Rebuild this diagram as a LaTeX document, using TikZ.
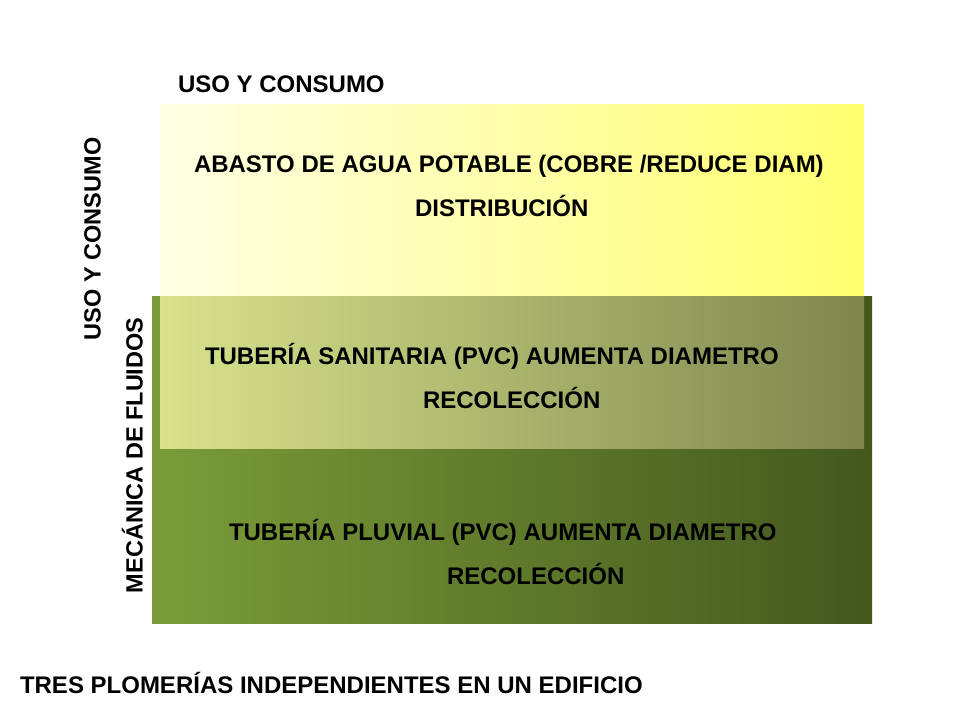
\documentclass[tikz,border=0pt]{standalone}
\usepackage{fontspec}
\setmainfont{Liberation Sans}
\definecolor{ylwL}{RGB}{255,255,228}
\definecolor{ylwR}{RGB}{255,255,112}
\definecolor{grnL}{RGB}{122,156,56}
\definecolor{grnR}{RGB}{68,88,30}
\definecolor{midL}{RGB}{216,226,140}
\definecolor{midR}{RGB}{126,134,78}
\begin{document}
\begin{tikzpicture}[x=1pt,y=-1pt,
  panel/.style={draw=none,inner sep=0pt,outer sep=0pt},
  lbl/.style={inner sep=0pt,outer sep=0pt,anchor=base west,font=\bfseries\fontsize{24}{28}\selectfont,text=black},
  vlbl/.style={lbl,rotate=90,font=\bfseries\fontsize{23.5}{28}\selectfont}]
\useasboundingbox (0,0) rectangle (960,720);
\node[panel,minimum width=704pt,minimum height=192pt,left color=ylwL,right color=ylwR] (yellow) at (512,200) {};
\node[panel,minimum width=720pt,minimum height=327pt,left color=grnL,right color=grnR] (green) at (512,459.5) {};
\node[panel,minimum width=704pt,minimum height=152pt,left color=midL,right color=midR] (mid) at (512,372) {};
\node[lbl] (top) at (178,92) {USO Y CONSUMO};
\node[lbl] (abasto) at (194,172) {ABASTO DE AGUA POTABLE (COBRE /REDUCE DIAM)};
\node[lbl] (distr) at (415,216) {DISTRIBUCIÓN};
\node[lbl] (sanit) at (205,364) {TUBERÍA SANITARIA (PVC) AUMENTA DIAMETRO};
\node[lbl] (recol1) at (423,408) {RECOLECCIÓN};
\node[lbl] (pluv) at (229,540.5) {TUBERÍA PLUVIAL (PVC) AUMENTA DIAMETRO};
\node[lbl] (recol2) at (447,584) {RECOLECCIÓN};
\node[lbl] (bottom) at (20,693) {TRES PLOMERÍAS INDEPENDIENTES EN UN EDIFICIO};
\node[vlbl] (vuso) at (100.5,340) {USO Y CONSUMO};
\node[vlbl] (vmec) at (142.5,593) {MECÁNICA DE FLUIDOS};
\end{tikzpicture}
\end{document}
